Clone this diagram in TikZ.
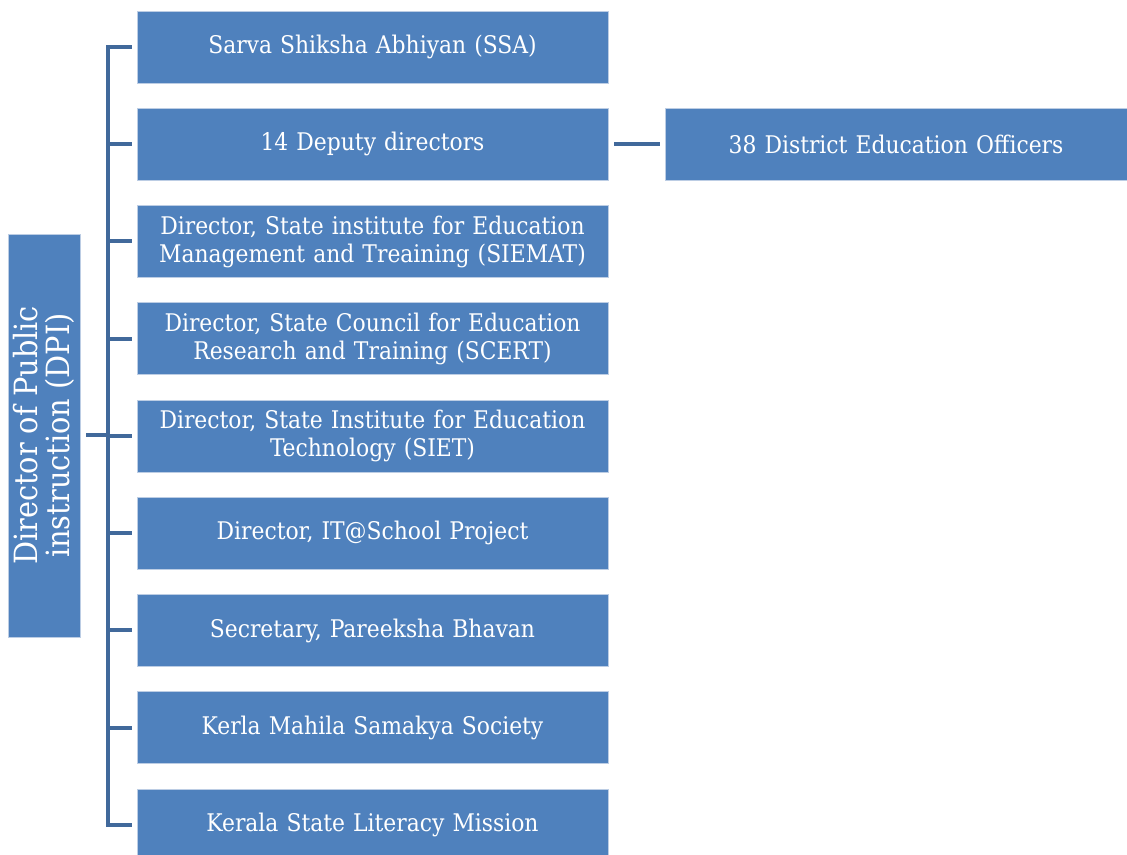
\documentclass[tikz,border=0pt]{standalone}
\usepackage{fontspec}
\setmainfont{DejaVu Serif Condensed}
\begin{document}
\begin{tikzpicture}[x=1pt,y=1pt]
\definecolor{boxblue}{HTML}{4F81BD}
\definecolor{linkblue}{HTML}{41699B}
\definecolor{edgeblue}{HTML}{BCCDE4}
\tikzset{
  orgbox/.style={rectangle, fill=boxblue, draw=edgeblue, line width=0.8pt,
    text=white, align=center, inner sep=0pt, font=\fontsize{24.3}{28}\selectfont},
  rbox/.style={orgbox, minimum width=471pt, minimum height=72pt, text width=465pt},
  conn/.style={draw=linkblue, line width=4pt}
}
\useasboundingbox (0,0) rectangle (1127,854);
\clip (0,0) rectangle (1127,854);
\node[orgbox, rotate=90, minimum width=403pt, minimum height=72pt, font=\fontsize{32}{32}\selectfont] (dpi) at (44,418.5) {Director of Public\\instruction (DPI)};
\node[rbox] (b1) at (372.5,807) {Sarva Shiksha Abhiyan (SSA)};
\node[rbox] (b2) at (372.5,709.75) {14 Deputy directors};
\node[rbox] (b3) at (372.5,612.5) {Director, State institute for Education\\Management and Treaining (SIEMAT)};
\node[rbox] (b4) at (372.5,515.25) {Director, State Council for Education\\Research and Training (SCERT)};
\node[rbox] (b5) at (372.5,418) {Director, State Institute for Education\\Technology (SIET)};
\node[rbox] (b6) at (372.5,320.75) {Director, IT@School Project};
\node[rbox] (b7) at (372.5,223.5) {Secretary, Pareeksha Bhavan};
\node[rbox] (b8) at (372.5,126.25) {Kerla Mahila Samakya Society};
\node[rbox] (b9) at (372.5,29) {Kerala State Literacy Mission};
\node[orgbox, minimum width=462pt, minimum height=72pt, text width=455pt] (deo) at (896,709.75) {38 District Education Officers};
\draw[conn] ([xshift=-5pt]b1.west) -- ++(-24pt,0) |- ([xshift=-5pt]b9.west);
\foreach \b in {b2,b3,b4,b5,b6,b7,b8}{
  \draw[conn] ([xshift=-5pt]\b.west) -- ++(-26pt,0);
}
\draw[conn] ([xshift=6pt]dpi.south) -- ++(24pt,0);
\draw[conn] ([xshift=6pt]b2.east) -- ([xshift=-5pt]deo.west);
\end{tikzpicture}
\end{document}
